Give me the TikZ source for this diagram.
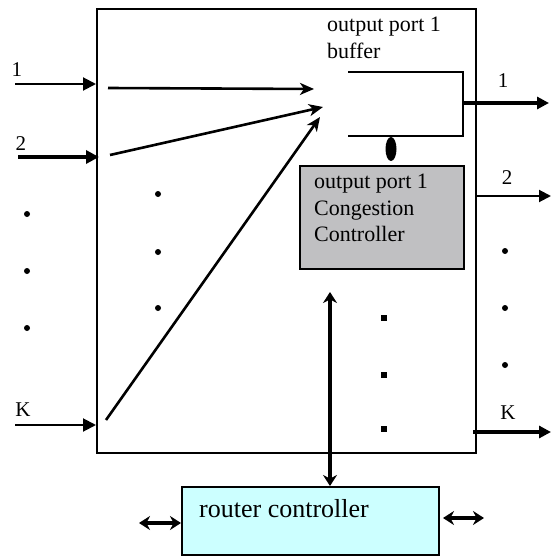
\documentclass[tikz,border=0pt]{standalone}
\usepackage{fontspec}
\setmainfont{Liberation Serif}
\usetikzlibrary{arrows.meta,shapes.geometric}
\definecolor{ccgray}{RGB}{192,192,194}
\definecolor{rcyan}{RGB}{204,255,255}
\tikzset{
  box/.style={draw, line width=2pt, anchor=north west, inner sep=0pt},
  lbl/.style={font=\fontsize{21}{23}\selectfont, inner sep=0pt},
  txt/.style={font=\fontsize{22}{26.5}\selectfont, align=left, inner sep=0pt},
  inarrow/.style={-{Triangle[length=13pt,width=13pt]}, line width=2pt},
  outarrow/.style={-{Triangle[length=12pt,width=12pt]}, line width=3.2pt},
  flow/.style={-{Stealth[length=14pt,width=12pt,inset=4pt]}, line width=2.6pt},
  dbl/.style={{Stealth[length=11pt,width=14pt]}-{Stealth[length=11pt,width=14pt]}, line width=3.4pt},
  dotc/.style={circle, fill, inner sep=0pt, minimum size=6pt},
  dots/.style={rectangle, fill, inner sep=0pt, minimum size=6pt},
}
\begin{document}
\begin{tikzpicture}[x=1pt,y=-1pt]
\useasboundingbox (0,0) rectangle (551,556);
% main box
\node[box, minimum width=379pt, minimum height=444pt] (main) at (96,8) {};
% buffer
\coordinate (bufTL) at (348,72);
\coordinate (bufTR) at (463,72);
\coordinate (bufBR) at (463,136);
\coordinate (bufBL) at (348,136);
\draw[line width=2pt] (bufTL) -- (bufTR) -- (bufBR) -- (bufBL);
\coordinate (bufR) at (463,103);
\node[txt, anchor=north west] (buflbl) at (327,17) {output port 1\\buffer};
% congestion controller
\node[box, fill=ccgray, minimum width=164pt, minimum height=103pt] (cc) at (299,165) {};
\node[txt, anchor=north west] (cctxt) at (314,174) {output port 1\\Congestion\\Controller};
% blob between buffer and controller
\node[ellipse, fill, minimum width=11pt, minimum height=24pt, inner sep=0pt] (blob) at (391,149) {};
% router controller
\node[box, fill=rcyan, minimum width=257pt, minimum height=68pt] (rc) at (181,486) {};
\node[txt, font=\fontsize{26}{30}\selectfont, anchor=west] (rctxt) at (199,509) {router controller};
% inputs
\coordinate (i1) at (15,84);
\coordinate (i2) at (18,157);
\coordinate (iK) at (15,425);
\draw[inarrow] (i1) -- (i1 -| main.west);
\draw[inarrow, line width=3.2pt] (i2) -- (99,157);
\draw[inarrow] (iK) -- (iK -| main.west);
\node[lbl] (l1) at (17,70) {1};
\node[lbl] (l2) at (21,144) {2};
\node[lbl] (lK) at (23,410) {K};
% inner flows
\coordinate (f1s) at (108,88);
\coordinate (f1e) at (314,89);
\coordinate (f2s) at (110,155);
\coordinate (f2e) at (323,107);
\coordinate (fKs) at (106,420);
\coordinate (fKe) at (320,117);
\draw[flow] (f1s) -- (f1e);
\draw[flow] (f2s) -- (f2e);
\draw[flow] (fKs) -- (fKe);
% outputs
\coordinate (o2s) at (475,196);
\coordinate (oKs) at (473,432);
\draw[outarrow] (bufR) -- (549,103);
\draw[outarrow, line width=2pt] (o2s) -- (551,196);
\draw[outarrow] (oKs) -- (551,432);
\node[lbl] (r1) at (503,81) {1};
\node[lbl] (r2) at (507,178) {2};
\node[lbl] (rK) at (508,413) {K};
% dots
\node[dotc] (ld1) at (27,214) {};
\node[dotc] (ld2) at (27,271) {};
\node[dotc] (ld3) at (27,328) {};
\node[dotc] (md1) at (158,194) {};
\node[dotc] (md2) at (158,252) {};
\node[dotc] (md3) at (158,308) {};
\node[dotc] (rd1) at (505,251) {};
\node[dotc] (rd2) at (505,308) {};
\node[dotc] (rd3) at (505,365) {};
\node[dots] (sd1) at (384,318) {};
\node[dots] (sd2) at (384,375) {};
\node[dots] (sd3) at (384,429) {};
% control arrows
\coordinate (vtop) at (330,292);
\draw[dbl, line width=3.8pt] (vtop) -- (vtop |- rc.north);
\coordinate (lx) at (139,523);
\draw[dbl] (lx) -- (lx -| rc.west);
\coordinate (rx) at (484,518);
\draw[dbl] (rx -| rc.east) ++(3,0) -- (rx);
\end{tikzpicture}
\end{document}
